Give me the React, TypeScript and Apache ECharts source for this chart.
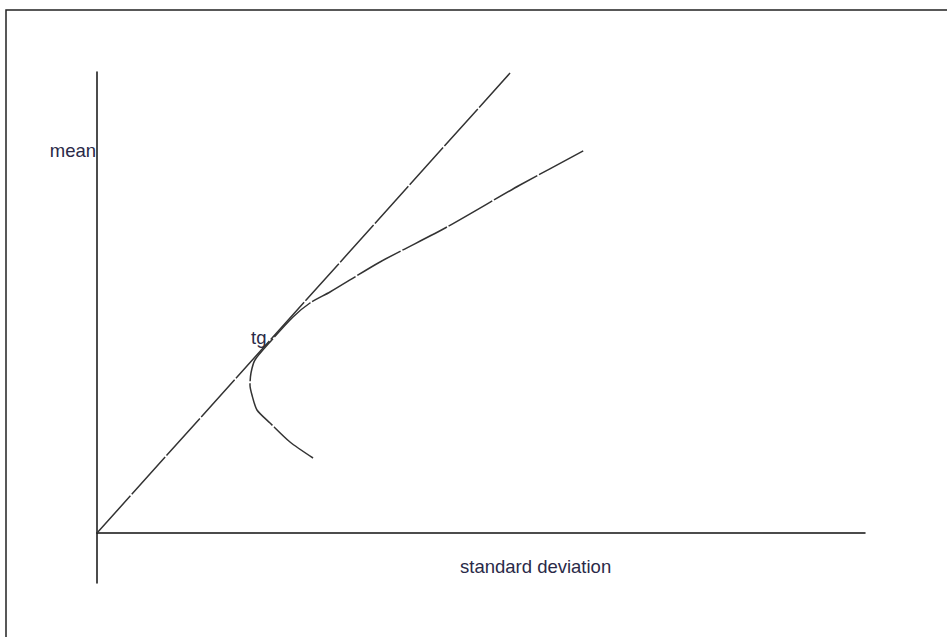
import React, { useEffect, useRef } from "react";
import * as echarts from "echarts";

// Capital market line (tangent line through origin)
const tangentLine: [number, number][] = [
  [0, 0],
  [53.78, 92],
];

// Efficient frontier (hyperbola) points: [standard deviation, mean]
const frontier: [number, number][] = [
  [28.13, 15],
  [25.13, 18.2],
  [22.53, 22],
  [20.83, 24.6],
  [20.18, 27.6],
  [19.92, 29.6],
  [20.05, 32],
  [20.57, 34.6],
  [22.53, 38.2],
  [25.52, 43.2],
  [27.73, 46],
  [30.34, 48.2],
  [36.85, 54.2],
  [45.57, 61.2],
  [55.08, 69.6],
  [63.54, 76.6],
];

const xLabel = "standard deviation";
const yLabel = "mean";
const tangentLabel = "tg";

export default function App() {
  const ref = useRef<HTMLDivElement>(null);
  useEffect(() => {
    if (!ref.current) return;
    const chart = echarts.init(ref.current, null, { renderer: "svg" });
    const font = "Liberation Sans, Arial, sans-serif";
    chart.setOption({
      animation: false,
      backgroundColor: "#ffffff",
      grid: { left: 97, right: 82, top: 72, bottom: 54 },
      xAxis: {
        type: "value",
        min: 0,
        max: 100,
        axisLine: { show: true, onZero: true, lineStyle: { color: "#111", width: 1.5 } },
        axisTick: { show: false },
        axisLabel: { show: false },
        splitLine: { show: false },
      },
      yAxis: {
        type: "value",
        min: -10,
        max: 92.2,
        axisLine: { show: true, onZero: false, lineStyle: { color: "#111", width: 1.5 } },
        axisTick: { show: false },
        axisLabel: { show: false },
        splitLine: { show: false },
      },
      series: [
        {
          type: "line",
          data: tangentLine,
          symbol: "none",
          lineStyle: { color: "#333", width: 1.5, type: [50, 2] },
        },
        {
          type: "line",
          data: frontier,
          symbol: "none",
          smooth: 0.25,
          lineStyle: { color: "#333", width: 1.5, type: [50, 2] },
        },
      ],
      graphic: [
        {
          type: "rect",
          shape: { x: 6, y: 10, width: 1200, height: 1200 },
          style: { fill: "none", stroke: "#222", lineWidth: 1.5 },
          silent: true,
        },
        {
          type: "text",
          x: 96,
          y: 150,
          style: {
            text: yLabel,
            fill: "#2a2a48",
            font: `18.5px ${font}`,
            textAlign: "right",
            textVerticalAlign: "middle",
          },
        },
        {
          type: "text",
          x: 460,
          y: 566,
          style: {
            text: xLabel,
            fill: "#2a2a48",
            font: `18.5px ${font}`,
            textAlign: "left",
            textVerticalAlign: "middle",
          },
        },
        {
          type: "text",
          x: 251,
          y: 337,
          style: {
            text: tangentLabel,
            fill: "#2a2a48",
            font: `18.5px ${font}`,
            textAlign: "left",
            textVerticalAlign: "middle",
          },
        },
      ],
    });
    return () => chart.dispose();
  }, []);
  return (
    <div
      ref={ref}
      style={{ position: "fixed", left: 0, top: 0, width: 947, height: 637 }}
    />
  );
}
